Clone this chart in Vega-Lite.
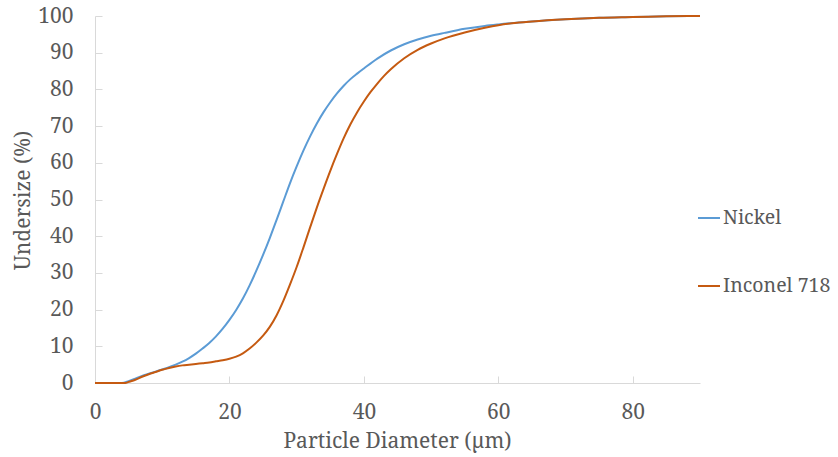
{
  "$schema": "https://vega.github.io/schema/vega-lite/v6.json",
  "autosize": "none",
  "width": 605,
  "height": 367,
  "padding": {"left": 95, "top": 16, "right": 138, "bottom": 74},
  "background": "white",
  "config": {
    "view": {"stroke": null},
    "font": "Noto Serif",
    "axis": {
      "grid": false,
      "domainColor": "#D9D9D9",
      "domainWidth": 1,
      "tickColor": "#D9D9D9",
      "tickWidth": 1,
      "tickSize": -7,
      "labelFont": "Noto Serif",
      "labelFontSize": 21,
      "labelColor": "#595959",
      "labelFlush": false,
      "titleFont": "Noto Serif",
      "titleFontSize": 21,
      "titleFontWeight": "normal",
      "titleColor": "#595959"
    },
    "legend": {
      "labelFont": "Noto Serif",
      "labelFontSize": 19.5,
      "labelColor": "#595959"
    }
  },
  "data": {
    "values": [
      {"d": 0, "u": 0, "s": "Nickel"},
      {"d": 2, "u": 0, "s": "Nickel"},
      {"d": 4, "u": 0, "s": "Nickel"},
      {"d": 5, "u": 0.5, "s": "Nickel"},
      {"d": 6, "u": 1.2, "s": "Nickel"},
      {"d": 7, "u": 1.9, "s": "Nickel"},
      {"d": 8, "u": 2.5, "s": "Nickel"},
      {"d": 9, "u": 3.1, "s": "Nickel"},
      {"d": 10, "u": 3.7, "s": "Nickel"},
      {"d": 11, "u": 4.3, "s": "Nickel"},
      {"d": 12, "u": 5.0, "s": "Nickel"},
      {"d": 13, "u": 5.8, "s": "Nickel"},
      {"d": 14, "u": 6.8, "s": "Nickel"},
      {"d": 15, "u": 8.0, "s": "Nickel"},
      {"d": 16, "u": 9.4, "s": "Nickel"},
      {"d": 17, "u": 10.9, "s": "Nickel"},
      {"d": 18, "u": 12.7, "s": "Nickel"},
      {"d": 19, "u": 14.8, "s": "Nickel"},
      {"d": 20, "u": 17.2, "s": "Nickel"},
      {"d": 21, "u": 19.9, "s": "Nickel"},
      {"d": 22, "u": 23.0, "s": "Nickel"},
      {"d": 23, "u": 26.6, "s": "Nickel"},
      {"d": 24, "u": 30.6, "s": "Nickel"},
      {"d": 25, "u": 34.9, "s": "Nickel"},
      {"d": 26, "u": 39.5, "s": "Nickel"},
      {"d": 27, "u": 44.4, "s": "Nickel"},
      {"d": 28, "u": 49.4, "s": "Nickel"},
      {"d": 29, "u": 54.4, "s": "Nickel"},
      {"d": 30, "u": 59.0, "s": "Nickel"},
      {"d": 31, "u": 63.3, "s": "Nickel"},
      {"d": 32, "u": 67.2, "s": "Nickel"},
      {"d": 33, "u": 70.7, "s": "Nickel"},
      {"d": 34, "u": 73.8, "s": "Nickel"},
      {"d": 35, "u": 76.5, "s": "Nickel"},
      {"d": 36, "u": 78.9, "s": "Nickel"},
      {"d": 37, "u": 81.0, "s": "Nickel"},
      {"d": 38, "u": 82.8, "s": "Nickel"},
      {"d": 39, "u": 84.3, "s": "Nickel"},
      {"d": 40, "u": 85.7, "s": "Nickel"},
      {"d": 42, "u": 88.4, "s": "Nickel"},
      {"d": 44, "u": 90.6, "s": "Nickel"},
      {"d": 46, "u": 92.3, "s": "Nickel"},
      {"d": 48, "u": 93.6, "s": "Nickel"},
      {"d": 50, "u": 94.6, "s": "Nickel"},
      {"d": 52, "u": 95.4, "s": "Nickel"},
      {"d": 55, "u": 96.5, "s": "Nickel"},
      {"d": 58, "u": 97.3, "s": "Nickel"},
      {"d": 60, "u": 97.7, "s": "Nickel"},
      {"d": 65, "u": 98.5, "s": "Nickel"},
      {"d": 70, "u": 99.1, "s": "Nickel"},
      {"d": 75, "u": 99.5, "s": "Nickel"},
      {"d": 80, "u": 99.7, "s": "Nickel"},
      {"d": 85, "u": 99.9, "s": "Nickel"},
      {"d": 90, "u": 100, "s": "Nickel"},
      {"d": 0, "u": 0, "s": "Inconel 718"},
      {"d": 2, "u": 0, "s": "Inconel 718"},
      {"d": 4.5, "u": 0, "s": "Inconel 718"},
      {"d": 5, "u": 0.3, "s": "Inconel 718"},
      {"d": 6, "u": 0.9, "s": "Inconel 718"},
      {"d": 7, "u": 1.7, "s": "Inconel 718"},
      {"d": 8, "u": 2.4, "s": "Inconel 718"},
      {"d": 9, "u": 3.0, "s": "Inconel 718"},
      {"d": 10, "u": 3.6, "s": "Inconel 718"},
      {"d": 11, "u": 4.1, "s": "Inconel 718"},
      {"d": 12, "u": 4.5, "s": "Inconel 718"},
      {"d": 13, "u": 4.8, "s": "Inconel 718"},
      {"d": 14, "u": 5.0, "s": "Inconel 718"},
      {"d": 15, "u": 5.2, "s": "Inconel 718"},
      {"d": 16, "u": 5.4, "s": "Inconel 718"},
      {"d": 17, "u": 5.6, "s": "Inconel 718"},
      {"d": 18, "u": 5.9, "s": "Inconel 718"},
      {"d": 19, "u": 6.2, "s": "Inconel 718"},
      {"d": 20, "u": 6.6, "s": "Inconel 718"},
      {"d": 21, "u": 7.2, "s": "Inconel 718"},
      {"d": 22, "u": 8.1, "s": "Inconel 718"},
      {"d": 23, "u": 9.4, "s": "Inconel 718"},
      {"d": 24, "u": 11.0, "s": "Inconel 718"},
      {"d": 25, "u": 12.9, "s": "Inconel 718"},
      {"d": 26, "u": 15.3, "s": "Inconel 718"},
      {"d": 27, "u": 18.4, "s": "Inconel 718"},
      {"d": 28, "u": 22.3, "s": "Inconel 718"},
      {"d": 29, "u": 26.8, "s": "Inconel 718"},
      {"d": 30, "u": 31.6, "s": "Inconel 718"},
      {"d": 31, "u": 36.9, "s": "Inconel 718"},
      {"d": 32, "u": 42.4, "s": "Inconel 718"},
      {"d": 33, "u": 47.8, "s": "Inconel 718"},
      {"d": 34, "u": 52.9, "s": "Inconel 718"},
      {"d": 35, "u": 57.8, "s": "Inconel 718"},
      {"d": 36, "u": 62.4, "s": "Inconel 718"},
      {"d": 37, "u": 66.7, "s": "Inconel 718"},
      {"d": 38, "u": 70.5, "s": "Inconel 718"},
      {"d": 39, "u": 73.8, "s": "Inconel 718"},
      {"d": 40, "u": 76.7, "s": "Inconel 718"},
      {"d": 41, "u": 79.3, "s": "Inconel 718"},
      {"d": 42, "u": 81.6, "s": "Inconel 718"},
      {"d": 43, "u": 83.7, "s": "Inconel 718"},
      {"d": 44, "u": 85.5, "s": "Inconel 718"},
      {"d": 46, "u": 88.5, "s": "Inconel 718"},
      {"d": 48, "u": 90.8, "s": "Inconel 718"},
      {"d": 50, "u": 92.5, "s": "Inconel 718"},
      {"d": 52, "u": 93.9, "s": "Inconel 718"},
      {"d": 55, "u": 95.5, "s": "Inconel 718"},
      {"d": 58, "u": 96.8, "s": "Inconel 718"},
      {"d": 60, "u": 97.5, "s": "Inconel 718"},
      {"d": 62, "u": 98.0, "s": "Inconel 718"},
      {"d": 65, "u": 98.5, "s": "Inconel 718"},
      {"d": 70, "u": 99.1, "s": "Inconel 718"},
      {"d": 75, "u": 99.5, "s": "Inconel 718"},
      {"d": 80, "u": 99.7, "s": "Inconel 718"},
      {"d": 85, "u": 99.9, "s": "Inconel 718"},
      {"d": 90, "u": 100, "s": "Inconel 718"}
    ]
  },
  "mark": {"type": "line", "interpolate": "monotone", "strokeWidth": 2},
  "encoding": {
    "x": {
      "field": "d",
      "type": "quantitative",
      "scale": {"domain": [0, 90], "nice": false},
      "axis": {
        "title": "Particle Diameter (µm)",
        "values": [0, 20, 40, 60, 80],
        "labelPadding": 36,
        "labelBaseline": "middle",
        "titleX": 302,
        "titleY": 58,
        "titleBaseline": "middle"
      }
    },
    "y": {
      "field": "u",
      "type": "quantitative",
      "scale": {"domain": [0, 100], "nice": false},
      "axis": {
        "title": "Undersize (%)",
        "values": [0, 10, 20, 30, 40, 50, 60, 70, 80, 90, 100],
        "labelPadding": 29,
        "titleX": -72,
        "titleY": 184,
        "titleAngle": -90,
        "titleBaseline": "middle"
      }
    },
    "color": {
      "field": "s",
      "type": "nominal",
      "scale": {"domain": ["Nickel", "Inconel 718"], "range": ["#5B9BD5", "#C55A11"]},
      "legend": {
        "title": null,
        "orient": "none",
        "legendX": 602,
        "legendY": 190,
        "symbolType": "stroke",
        "symbolSize": 484,
        "symbolStrokeWidth": 2,
        "labelOffset": 2,
        "rowPadding": 46
      }
    }
  }
}
